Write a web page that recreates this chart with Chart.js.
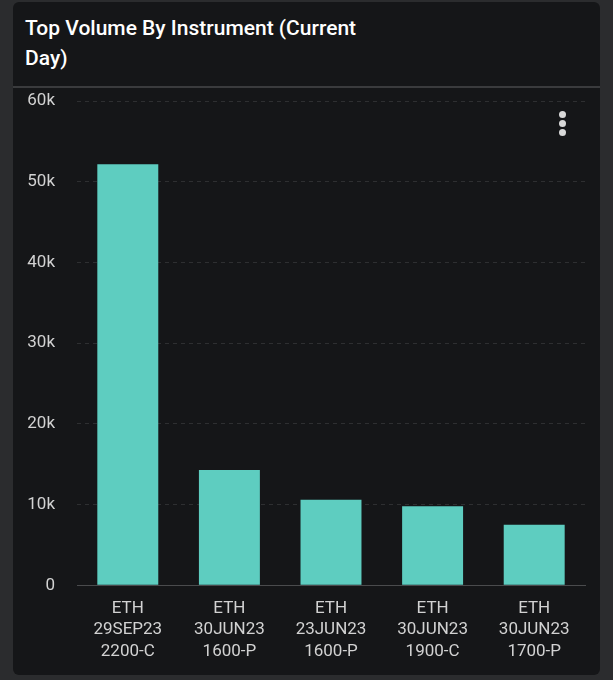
<!DOCTYPE html>
<html>
<head>
<meta charset="utf-8">
<script src="https://cdn.jsdelivr.net/npm/chart.js@4.4.0/dist/chart.umd.min.js"></script>
<style>
  html, body { margin: 0; padding: 0; background: #2b2c2e; width: 613px; height: 680px; overflow: hidden; }
  .card {
    position: absolute; left: 13px; top: 2px; width: 587px; height: 673px;
    background: #151618; border-radius: 6px;
  }
  .title {
    position: absolute; left: 12px; top: 11px;
    font-family: Roboto, "Noto Sans", sans-serif; font-weight: 500;
    font-size: 21px; line-height: 30px; color: #ffffff;
  }
  .sep { position: absolute; left: 0; right: 0; top: 84px; height: 2px; background: #3a3b3d; }
  .menu { position: absolute; left: 546px; top: 109px; }
  .menu span { display: block; width: 7px; height: 7px; border-radius: 50%; background: #d8d8d8; margin-bottom: 2px; }
  .wrap { position: absolute; left: 0; top: 67px; width: 587px; height: 606px; }
</style>
</head>
<body>
<div class="card">
  <div class="title">Top Volume By Instrument (Current<br>Day)</div>
  <div class="sep"></div>
  <div class="wrap"><canvas id="c"></canvas></div>
  <div class="menu"><span></span><span></span><span></span></div>
</div>
<script>
  var instruments = [
    ['ETH', '29SEP23', '2200-C'],
    ['ETH', '30JUN23', '1600-P'],
    ['ETH', '23JUN23', '1600-P'],
    ['ETH', '30JUN23', '1900-C'],
    ['ETH', '30JUN23', '1700-P']
  ];
  var volumes = [52200, 14300, 10600, 9800, 7500];
  var yTicks = [0, 10000, 20000, 30000, 40000, 50000, 60000];

  var ctx = document.getElementById('c').getContext('2d');
  new Chart(ctx, {
    type: 'bar',
    data: {
      labels: instruments,
      datasets: [{
        data: volumes,
        backgroundColor: '#5ecdc0',
        borderWidth: 0,
        barPercentage: 0.6,
        categoryPercentage: 1.0
      }]
    },
    options: {
      responsive: true,
      maintainAspectRatio: false,
      animation: false,
      layout: { padding: { left: 12, right: 15, top: 0, bottom: 0 } },
      plugins: { legend: { display: false }, tooltip: { enabled: false } },
      scales: {
        x: {
          grid: { display: false, drawTicks: false },
          border: { display: true, color: '#4a4b4d', width: 1 },
          ticks: {
            color: '#d2d2d2', padding: 13, maxRotation: 0,
            font: { family: 'Roboto', size: 17, lineHeight: 1.25 }
          }
        },
        y: {
          min: 0, max: 60000,
          afterBuildTicks: function (axis) {
            axis.ticks = yTicks.map(function (v) { return { value: v }; });
          },
          afterFit: function (axis) { axis.width = 52; },
          grid: { color: '#2e2f31', drawTicks: false },
          border: { display: false, dash: [4, 4] },
          ticks: {
            color: '#d2d2d2', padding: 22,
            font: { family: 'Roboto', size: 17 },
            callback: function (v) { return v === 0 ? '0' : (v / 1000) + 'k'; }
          }
        }
      }
    }
  });
</script>
</body>
</html>
